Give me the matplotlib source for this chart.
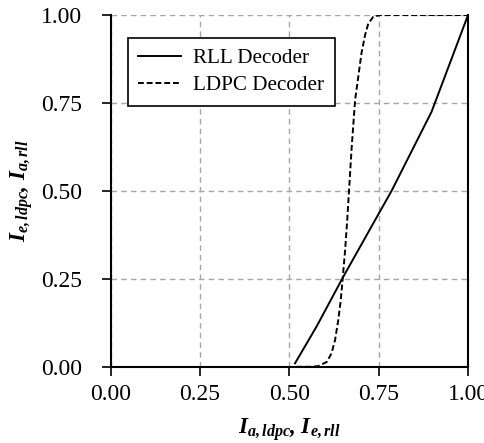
import matplotlib
matplotlib.use("Agg")
import matplotlib.pyplot as plt

plt.rcParams["font.family"] = ["Liberation Serif", "DejaVu Serif"]
plt.rcParams["mathtext.fontset"] = "custom"
plt.rcParams["mathtext.rm"] = "Liberation Serif"
plt.rcParams["mathtext.it"] = "Liberation Serif:italic"
plt.rcParams["mathtext.bf"] = "Liberation Serif:bold"
plt.rcParams["mathtext.bfit"] = "Liberation Serif:italic:bold"

# EXIT curves
rll_x = [0.516, 0.576, 0.651, 0.740, 0.786, 0.898, 1.000]
rll_y = [0.010, 0.114, 0.256, 0.417, 0.500, 0.725, 1.000]

ldpc_x = [0.52, 0.56, 0.581, 0.605, 0.618, 0.628, 0.637, 0.644, 0.649, 0.656,
          0.662, 0.674, 0.684, 0.693, 0.702, 0.712, 0.721, 0.735, 0.754, 0.80, 1.00]
ldpc_y = [0.000, 0.000, 0.002, 0.014, 0.038, 0.076, 0.133, 0.190, 0.247, 0.330,
          0.417, 0.616, 0.758, 0.825, 0.892, 0.943, 0.976, 0.995, 1.000, 1.000, 1.000]

ticks = [0.0, 0.25, 0.5, 0.75, 1.0]
tick_labels = ["0.00", "0.25", "0.50", "0.75", "1.00"]

fig = plt.figure(figsize=(4.85, 4.43), dpi=100)
ax = fig.add_axes([0.228, 0.172, 0.737, 0.794])

ax.plot(rll_x, rll_y, color="black", lw=1.4, label="RLL Decoder")
ax.plot(ldpc_x, ldpc_y, color="black", lw=1.4, ls=(0, (3, 1.5)), label="LDPC Decoder")

ax.set_xlim(0, 1)
ax.set_ylim(0, 1)
ax.set_xticks(ticks)
ax.set_yticks(ticks)
ax.set_xticklabels(tick_labels)
ax.set_yticklabels(tick_labels)
ax.tick_params(labelsize=17, direction="out", length=6.5, width=1.2, colors="black")
ax.tick_params(axis="y", pad=14)
ax.tick_params(axis="x", pad=6)
ax.grid(True, color="#a6a6a6", ls=(0, (4, 3)), lw=1.0)
ax.set_axisbelow(True)

ax.spines["top"].set_visible(False)
for s in ["left", "bottom", "right"]:
    ax.spines[s].set_linewidth(1.5)
    ax.spines[s].set_color("black")

ax.set_xlabel(r"$\mathbfit{I}_{\mathbfit{a,ldpc}}\mathbfit{,}\ \mathbfit{I}_{\mathbfit{e,rll}}$",
              fontsize=16.5, labelpad=8)
ax.set_ylabel(r"$\mathbfit{I}_{\mathbfit{e,ldpc}}\mathbfit{,}\ \mathbfit{I}_{\mathbfit{a,rll}}$",
              fontsize=16.5, labelpad=4)

leg = ax.legend(loc="upper left", bbox_to_anchor=(0.048, 0.935), fontsize=15.2,
                frameon=True, fancybox=False, framealpha=1, edgecolor="black",
                handlelength=2.0, handletextpad=0.6, borderpad=0.5, labelspacing=0.35,
                borderaxespad=0)
leg.get_frame().set_linewidth(1.2)

fig.savefig("out.png", dpi=100)
